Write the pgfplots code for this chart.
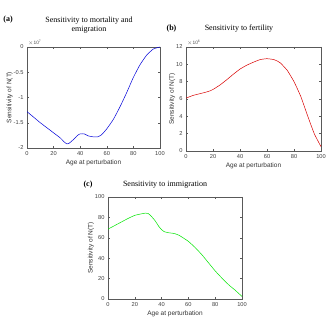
\documentclass[border=0pt]{standalone}
\usepackage{fontspec}
\setmainfont{Liberation Serif}
\setsansfont{Liberation Sans}
\usepackage{pgfplots}
\pgfplotsset{compat=1.18}
\definecolor{axgray}{gray}{0.35}
\pgfplotsset{
  myax/.style={
    scale only axis,
    anchor=south west,
    xmin=0, xmax=100,
    xtick={0,20,40,60,80,100},
    xticklabels={0,20,40,60,80,100},
    tick align=inside,
    major tick length=2pt,
    axis line style={axgray, line width=0.4pt},
    tick style={axgray, line width=0.4pt},
    ticklabel style={font=\sffamily\fontsize{5.7}{6}\selectfont, text=black!75},
    xticklabel style={yshift=0.5pt},
    label style={font=\sffamily\fontsize{6.5}{7}\selectfont, text=black!80},
    xlabel={Age at perturbation},
    ylabel={Sensitivity of N(T)},
    xlabel style={yshift=2.5pt},
    ylabel style={yshift=-6pt},
  }
}
\begin{document}
\begin{tikzpicture}[x=1pt,y=1pt]
\useasboundingbox (0,0) rectangle (328,323);
% (a)
\begin{axis}[myax, at={(27pt,175pt)}, width=133pt, height=101pt,
  ymin=-2, ymax=0, ytick={-2,-1.5,-1,-0.5,0}, yticklabels={-2,-1.5,-1,-0.5,0}]
\addplot[blue!85!black, line width=0.5pt, smooth, tension=0.3] coordinates {
(0,-1.28)(5,-1.39)(10,-1.5)(15,-1.6)(20,-1.7)(25,-1.8)(28,-1.88)(30,-1.92)(32,-1.9)(35,-1.83)(38,-1.75)(40,-1.72)(43,-1.72)(46,-1.76)(50,-1.78)(53,-1.78)(56,-1.74)(60,-1.62)(65,-1.43)(70,-1.18)(75,-0.9)(80,-0.6)(85,-0.35)(90,-0.16)(95,-0.04)(100,0)};
\end{axis}
% (b)
\begin{axis}[myax, at={(186pt,172pt)}, width=135pt, height=104pt,
  ymin=0, ymax=12, ytick={0,2,4,6,8,10,12}, yticklabels={0,2,4,6,8,10,12}]
\addplot[red!85!black, line width=0.5pt, smooth, tension=0.3] coordinates {
(0,6.1)(5,6.4)(10,6.6)(15,6.8)(18,6.95)(20,7.1)(25,7.6)(30,8.2)(35,8.85)(40,9.45)(45,9.9)(50,10.25)(55,10.55)(60,10.65)(65,10.55)(68,10.35)(70,10.15)(75,9.3)(80,8.0)(85,6.3)(90,4.1)(95,2.0)(100,0.5)};
\end{axis}
% (c)
\begin{axis}[myax, at={(108pt,24pt)}, width=134pt, height=102pt,
  ymin=0, ymax=100, ytick={0,20,40,60,80,100}, yticklabels={0,20,40,60,80,100}]
\addplot[green!90!black, line width=0.5pt, smooth, tension=0.3] coordinates {
(0,68.5)(5,72)(10,75.5)(15,79)(20,82)(25,83.5)(28,84.2)(30,83.8)(32,81.5)(35,77)(38,71)(40,68)(42,66)(45,65)(48,64.5)(50,64)(53,62.5)(56,60)(60,56.5)(65,50.5)(70,43.5)(75,35.5)(80,27.5)(85,20.5)(90,14)(95,8.5)(100,2.5)};
\end{axis}
% exponents
\node[anchor=south west, inner sep=0pt, font=\sffamily\fontsize{4.8}{5}\selectfont, text=black!70] at (28,277) {$\times$10\textsuperscript{7}};
\node[anchor=south west, inner sep=0pt, font=\sffamily\fontsize{4.8}{5}\selectfont, text=black!70] at (187,277) {$\times$10\textsuperscript{6}};
% titles
\node[font=\fontsize{8}{9.5}\selectfont\bfseries] at (8,303) {(a)};
\node[font=\fontsize{8}{9.5}\selectfont, align=center] at (89,298) {Sensitivity to mortality and\\ emigration};
\node[font=\fontsize{8}{9.5}\selectfont\bfseries] at (171.5,294) {(b)};
\node[font=\fontsize{8}{9.5}\selectfont] at (239,294) {Sensitivity to fertility};
\node[font=\fontsize{8}{9.5}\selectfont\bfseries] at (88,138) {(c)};
\node[font=\fontsize{8}{9.5}\selectfont] at (165,138) {Sensitivity to immigration};
\end{tikzpicture}
\end{document}
